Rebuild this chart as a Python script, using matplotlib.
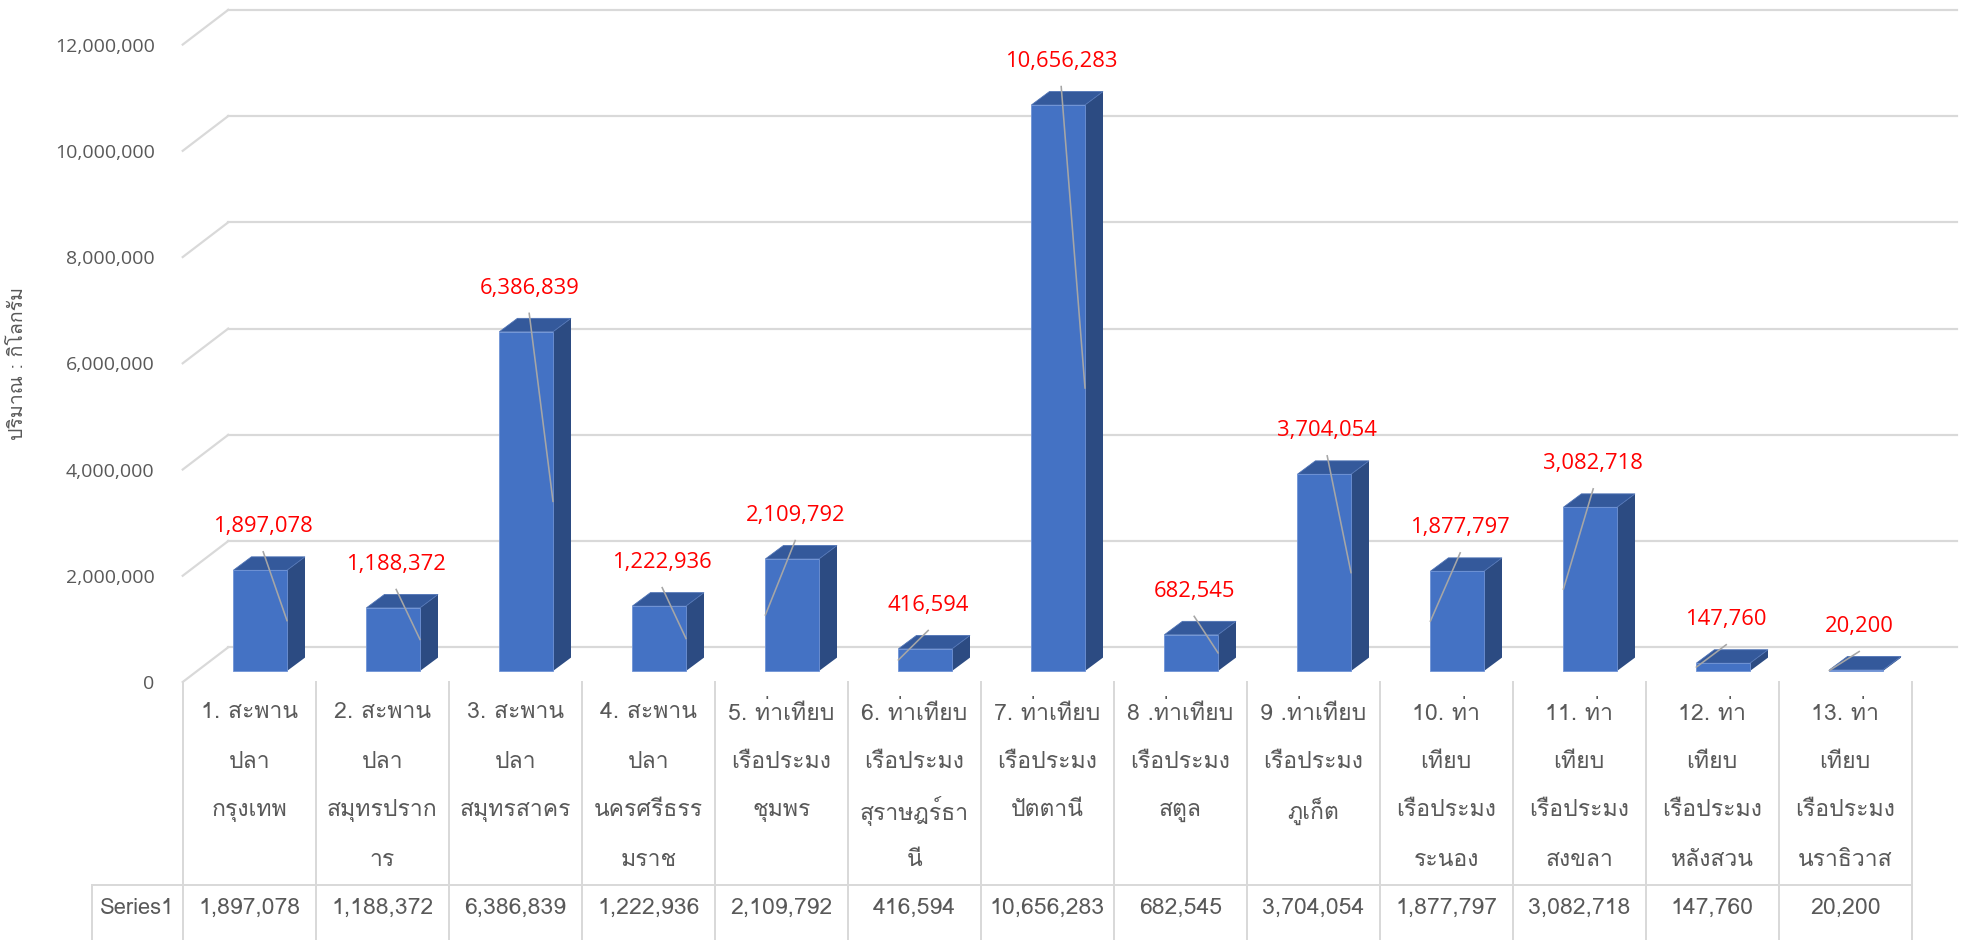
import matplotlib
matplotlib.use("Agg")  # headless
import matplotlib.pyplot as plt
from matplotlib import font_manager
from matplotlib.ft2font import FT2Font
from matplotlib.patches import Polygon
from matplotlib.lines import Line2D
from matplotlib.transforms import IdentityTransform
from matplotlib.ticker import FuncFormatter

# --- data -------------------------------------------------------------
CATEGORIES = [
    "1. สะพาน\nปลา\nกรุงเทพ",
    "2. สะพาน\nปลา\nสมุทรปราก\nาร",
    "3. สะพาน\nปลา\nสมุทรสาคร",
    "4. สะพาน\nปลา\nนครศรีธรร\nมราช",
    "5. ท่าเทียบ\nเรือประมง\nชุมพร",
    "6. ท่าเทียบ\nเรือประมง\nสุราษฎร์ธา\nนี",
    "7. ท่าเทียบ\nเรือประมง\nปัตตานี",
    "8 .ท่าเทียบ\nเรือประมง\nสตูล",
    "9 .ท่าเทียบ\nเรือประมง\nภูเก็ต",
    "10. ท่า\nเทียบ\nเรือประมง\nระนอง",
    "11. ท่า\nเทียบ\nเรือประมง\nสงขลา",
    "12. ท่า\nเทียบ\nเรือประมง\nหลังสวน",
    "13. ท่า\nเทียบ\nเรือประมง\nนราธิวาส",
]
VALUES = [1897078, 1188372, 6386839, 1222936, 2109792, 416594, 10656283,
          682545, 3704054, 1877797, 3082718, 147760, 20200]
SERIES_NAME = "Series1"
Y_TICKS = [0, 2000000, 4000000, 6000000, 8000000, 10000000, 12000000]
Y_TITLE = "ปริมาณ : กิโลกรัม"

# which side of the front face each leader line ends on
LEADER_SIDE = ["R", "R", "R", "R", "L", "L", "R", "R", "R", "L", "L", "L", "L"]

W, H, DPI = 1964, 940, 100
GRID = "#d9d9d9"
TEXT = "#595959"
FRONT, SIDE, TOP = "#4472c4", "#2c4b82", "#34599b"
NUM_FONT = "Open Sans"


def find_thai_font():
    for f in font_manager.fontManager.ttflist:
        try:
            if ord("ก") in FT2Font(f.fname).get_charmap():
                return f.name
        except Exception:
            pass
    return "DejaVu Sans"


THAI_FONT = find_thai_font()
plt.rcParams["font.family"] = [THAI_FONT, "DejaVu Sans"]


def pt(px):
    return px * 72 / DPI


def main():
    fig = plt.figure(figsize=(W / DPI, H / DPI), dpi=DPI)
    # front plane of the 3D box
    left, right, top, bottom = 182.7, 1911.7, 44.6, 682
    ax = fig.add_axes([left / W, 1 - bottom / H, (right - left) / W, (bottom - top) / H])
    ax.set_xlim(-0.5, len(VALUES) - 0.5)
    ax.set_ylim(0, 12000000)
    ax.set_frame_on(False)
    ax.set_xticks([])
    ax.set_yticks(Y_TICKS)
    ax.yaxis.set_major_formatter(FuncFormatter(lambda v, p: f"{int(v):,}"))
    ax.tick_params(axis="y", length=0, pad=pt(28), labelsize=pt(19.5), labelcolor=TEXT)
    for lab in ax.get_yticklabels():
        lab.set_fontfamily(NUM_FONT)
    ax.set_ylabel(Y_TITLE, fontsize=pt(19.5), color=TEXT)
    ax.yaxis.set_label_coords(-0.090, 0.5)

    ident = IdentityTransform()

    def px(i, v):
        return ax.transData.transform((i, v))

    def line(xs, ys, **kw):
        ax.add_line(Line2D(xs, ys, transform=ident, clip_on=False, **kw))

    def poly(pts, **kw):
        ax.add_patch(Polygon(pts, closed=True, transform=ident, clip_on=False, **kw))

    # back wall gridlines + left diagonals
    wall_dx, wall_dy = 45.5, 34.7
    n = len(VALUES)
    for v in Y_TICKS:
        x0, y0 = px(-0.5, v)
        x1, _ = px(n - 0.5, v)
        line([x0, x0 + wall_dx], [y0, y0 + wall_dy], color=GRID, lw=pt(2.2), zorder=1)
        line([x0 + wall_dx, x1 + wall_dx], [y0 + wall_dy, y0 + wall_dy],
             color=GRID, lw=pt(2.2), zorder=1)

    # 3D bars
    off_x, off_y = 11, 11        # front face offset from front plane
    half_w = 26.8
    dx, dy = 18, 13.4            # bar depth
    for i, v in enumerate(VALUES):
        cx, yb = px(i, 0)
        _, yt = px(i, v)
        cx += off_x
        yb += off_y
        yt += off_y
        xl, xr = cx - half_w, cx + half_w
        poly([(xr, yb), (xr + dx, yb + dy), (xr + dx, yt + dy), (xr, yt)],
             facecolor=SIDE, edgecolor="none", zorder=3)
        poly([(xl, yt), (xr, yt), (xr + dx, yt + dy), (xl + dx, yt + dy)],
             facecolor=TOP, edgecolor="#4f73b5", lw=0.6, zorder=3)
        poly([(xl, yb), (xr, yb), (xr, yt), (xl, yt)],
             facecolor=FRONT, edgecolor="#6f93d6", lw=0.6, zorder=4)

        lx, ly = cx + 3, yt + dy + 30
        ax.text(lx, ly, f"{v:,}", transform=ident, ha="center", va="center",
                color="#ff0000", fontsize=pt(22), fontfamily=NUM_FONT, zorder=6)
        ex = xr if LEADER_SIDE[i] == "R" else xl
        line([lx, ex], [ly - 25, (yt + yb) / 2], color="#a6a6a6", lw=pt(1.6), zorder=5)

    # data table
    tab_top = H - 682
    row_y = H - 885
    tab_left = 92.3
    edges = [px(i - 0.5, 0)[0] for i in range(n + 1)]
    for x in edges:
        line([x, x], [tab_top, 0], color=GRID, lw=pt(2), zorder=1)
    line([tab_left, edges[-1]], [row_y, row_y], color=GRID, lw=pt(2), zorder=1)
    line([tab_left, tab_left], [row_y, 0], color=GRID, lw=pt(2), zorder=1)

    line_y = [713, 762, 811, 860]
    for i, name in enumerate(CATEGORIES):
        cx = px(i, 0)[0]
        for k, part in enumerate(name.split("\n")):
            ax.text(cx, H - line_y[k], part, transform=ident, ha="center", va="center",
                    color=TEXT, fontsize=pt(23))
        ax.text(cx, H - 908, f"{VALUES[i]:,}", transform=ident, ha="center",
                va="center", color=TEXT, fontsize=pt(23))
    ax.text((tab_left + edges[0]) / 2, H - 908, SERIES_NAME, transform=ident,
            ha="center", va="center", color=TEXT, fontsize=pt(22))

    fig.savefig("out.png", dpi=DPI)


if __name__ == "__main__":
    main()
